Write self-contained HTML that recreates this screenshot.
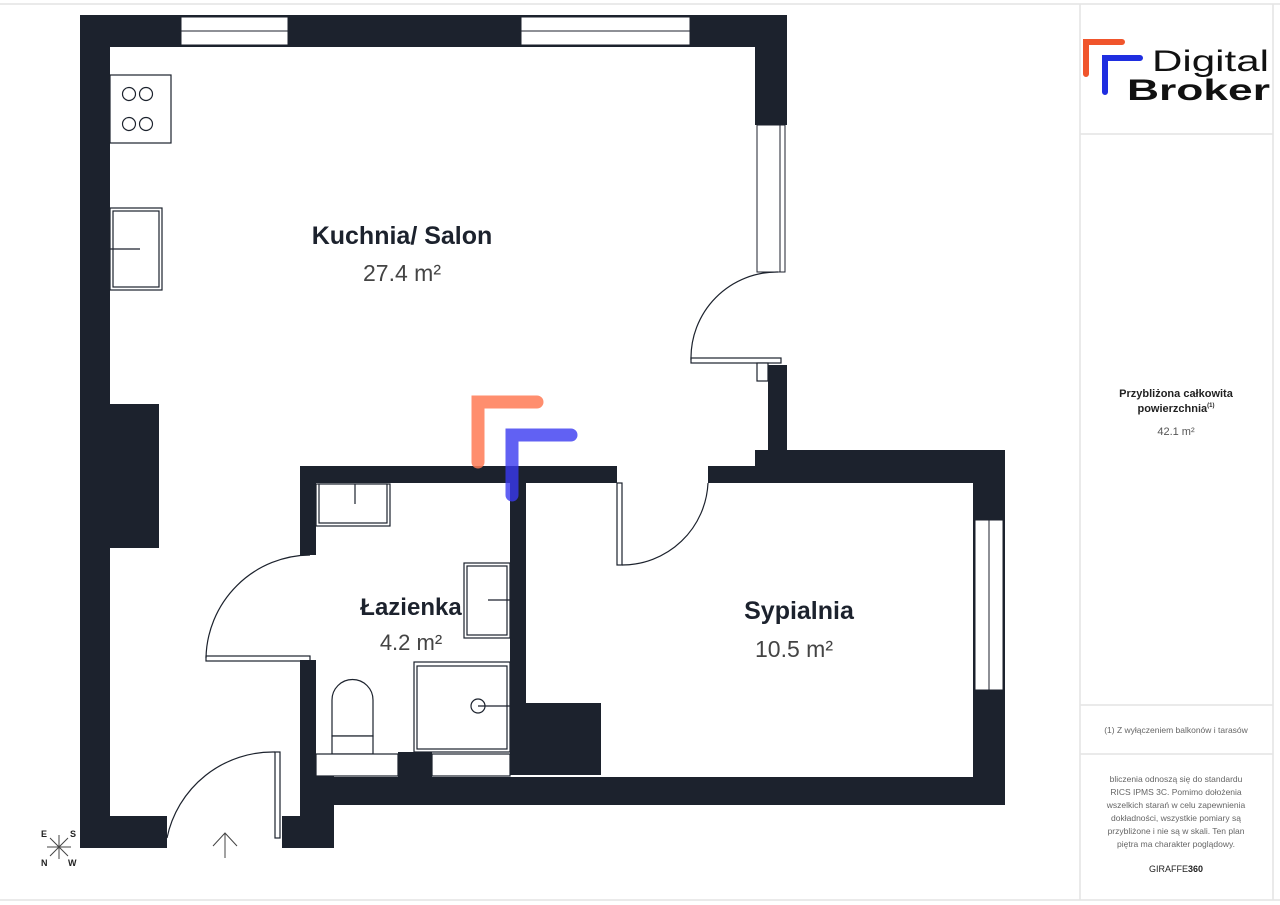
<!DOCTYPE html>
<html><head><meta charset="utf-8"><style>
html,body{margin:0;padding:0;background:#fff;}
svg{display:block;font-family:"Liberation Sans",sans-serif;}
</style></head><body>
<svg width="1280" height="905" viewBox="0 0 1280 905" xmlns="http://www.w3.org/2000/svg">
<rect width="1280" height="905" fill="#fff"/>
<g stroke="#e4e4e4" stroke-width="1.5" fill="none">
<line x1="0" y1="4" x2="1280" y2="4"/>
<line x1="1080" y1="4" x2="1080" y2="900"/>
<line x1="1273" y1="4" x2="1273" y2="900"/>
<line x1="1080" y1="134" x2="1273" y2="134"/>
<line x1="1080" y1="705" x2="1273" y2="705"/>
<line x1="1080" y1="754" x2="1273" y2="754"/>
<line x1="0" y1="900" x2="1280" y2="900"/>
</g>
<path d="M1086 74 V42 H1122" stroke="#f0552c" stroke-width="6" fill="none" stroke-linecap="round"/>
<path d="M1105 92 V58 H1140" stroke="#1f2ee0" stroke-width="6" fill="none" stroke-linecap="round"/>
<text x="1152" y="71" font-size="30" fill="#111" textLength="117" lengthAdjust="spacingAndGlyphs">Digital</text>
<text x="1127" y="100" font-size="30" font-weight="bold" fill="#111" textLength="143" lengthAdjust="spacingAndGlyphs">Broker</text>
<text x="1176" y="397" font-size="11" font-weight="bold" fill="#222" text-anchor="middle">Przybliżona całkowita</text>
<text x="1176" y="412" font-size="11" font-weight="bold" fill="#222" text-anchor="middle">powierzchnia<tspan font-size="6" dy="-5">(1)</tspan></text>
<text x="1176" y="435" font-size="11" fill="#555" text-anchor="middle">42.1 m²</text>
<text x="1176" y="733" font-size="8.5" fill="#666" text-anchor="middle">(1) Z wyłączeniem balkonów i tarasów</text>
<g font-size="8.5" fill="#666" text-anchor="middle">
<text x="1176" y="782">bliczenia odnoszą się do standardu</text>
<text x="1176" y="795">RICS IPMS 3C. Pomimo dołożenia</text>
<text x="1176" y="808">wszelkich starań w celu zapewnienia</text>
<text x="1176" y="821">dokładności, wszystkie pomiary są</text>
<text x="1176" y="834">przybliżone i nie są w skali. Ten plan</text>
<text x="1176" y="847">piętra ma charakter poglądowy.</text>
</g>
<text x="1176" y="872" font-size="9" fill="#222" text-anchor="middle">GIRAFFE<tspan font-weight="bold">360</tspan></text>

<g fill="#1c222d">
<rect x="80" y="15" width="707" height="32"/>
<rect x="80" y="15" width="30" height="833"/>
<rect x="110" y="404" width="49" height="144"/>
<rect x="80" y="816" width="87" height="32"/>
<rect x="755" y="15" width="32" height="110"/>
<rect x="768" y="365" width="19" height="100"/>
<rect x="300" y="466" width="317" height="17"/>
<rect x="708" y="466" width="60" height="17"/>
<rect x="755" y="450" width="250" height="33"/>
<rect x="973" y="450" width="32" height="355"/>
<rect x="300" y="466" width="16" height="89"/>
<rect x="300" y="660" width="16" height="188"/>
<rect x="300" y="775" width="34" height="73"/>
<rect x="282" y="816" width="52" height="32"/>
<rect x="300" y="777" width="705" height="28"/>
<rect x="510" y="483" width="16" height="292"/>
<rect x="526" y="703" width="75" height="72"/>
<rect x="398" y="752" width="34" height="25"/>
</g>
<g fill="#fff" stroke="#1c222d" stroke-width="1">
<rect x="181" y="17" width="107" height="28"/><line x1="181" y1="31" x2="288" y2="31"/>
<rect x="521" y="17" width="169" height="28"/><line x1="521" y1="31" x2="690" y2="31"/>
<rect x="757" y="125" width="28" height="147"/><line x1="780" y1="125" x2="780" y2="272"/>
<rect x="975" y="520" width="28" height="170"/><line x1="989" y1="520" x2="989" y2="690"/>
</g>
<g fill="#fff" stroke="#1c222d" stroke-width="1.2">
<rect x="110" y="75" width="61" height="68"/>
<circle cx="129" cy="94" r="6.5"/><circle cx="146" cy="94" r="6.5"/>
<circle cx="129" cy="124" r="6.5"/><circle cx="146" cy="124" r="6.5"/>
<rect x="110" y="208" width="52" height="82"/><rect x="113" y="211" width="46" height="76"/>
<line x1="110" y1="249" x2="140" y2="249"/>
<rect x="316" y="484" width="74" height="42"/><rect x="319" y="484" width="68" height="39"/>
<line x1="355" y1="484" x2="355" y2="504"/>
<rect x="464" y="563" width="46" height="75"/><rect x="467" y="566" width="40" height="69"/>
<line x1="488" y1="600" x2="510" y2="600"/>
<rect x="414" y="662" width="96" height="90"/><rect x="417" y="666" width="90" height="83"/>
<circle cx="478" cy="706" r="7"/><line x1="478" y1="706" x2="510" y2="706"/>
<path d="M332 736 V700 A20 20 0 0 1 373 700 V736 Z"/>
<rect x="332" y="736" width="41" height="18"/>
<rect x="316" y="754" width="82" height="22"/>
<rect x="432" y="754" width="78" height="22"/>
</g>
<g fill="none" stroke="#1c222d" stroke-width="1.2">
<rect x="691" y="358" width="90" height="5"/>
<path d="M691 360 A86 86 0 0 1 778 272"/>
<rect x="757" y="363" width="11" height="18" fill="#fff"/>
<rect x="617" y="483" width="5" height="82"/>
<path d="M622 565 A86 86 0 0 0 708 483"/>
<rect x="206" y="656" width="104" height="5"/>
<path d="M206 658 A105 105 0 0 1 310 555"/>
<rect x="275" y="752" width="5" height="86"/>
<path d="M167 838 A108 108 0 0 1 275 752"/>
</g>
<path d="M478 462 V402 H537" stroke="#ff7a55" stroke-opacity="0.85" stroke-width="13" fill="none" stroke-linecap="round"/>
<path d="M512 495 V435 H571" stroke="#3a3af0" stroke-opacity="0.8" stroke-width="13" fill="none" stroke-linecap="round"/>
<g text-anchor="middle" fill="#1c222d">
<text x="402" y="244" font-size="25" font-weight="bold">Kuchnia/ Salon</text>
<text x="402" y="281" font-size="23" fill="#444">27.4 m²</text>
<text x="411" y="615" font-size="24" font-weight="bold">Łazienka</text>
<text x="411" y="650" font-size="22" fill="#444">4.2 m²</text>
<text x="799" y="619" font-size="25" font-weight="bold">Sypialnia</text>
<text x="794" y="657" font-size="23" fill="#444">10.5 m²</text>
</g>
<g stroke="#444" stroke-width="1">
<line x1="50" y1="838" x2="68" y2="856"/><line x1="68" y1="838" x2="50" y2="856"/>
<line x1="47" y1="847" x2="71" y2="847"/><line x1="59" y1="835" x2="59" y2="859"/>
<line x1="225" y1="833" x2="225" y2="858"/>
<path d="M213 846 L225 833 L237 846" fill="none"/>
</g>
<g font-size="9" fill="#222" font-weight="bold">
<text x="41" y="837">E</text><text x="70" y="837">S</text>
<text x="41" y="866">N</text><text x="68" y="866">W</text>
</g>
</svg>
</body></html>
